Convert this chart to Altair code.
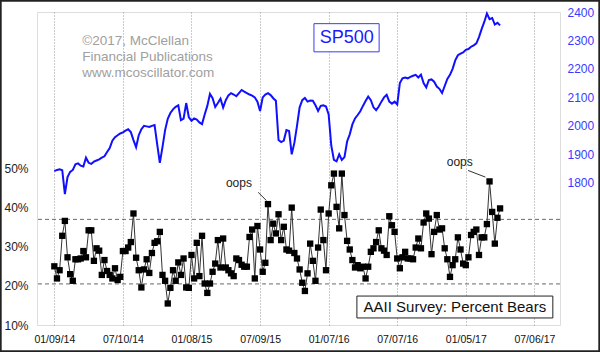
import altair as alt
import pandas as pd

# ---------------- data ----------------
start_date = "2014-01-09"

bears = [
    25.0, 21.9, 24.0, 32.8, 36.6, 27.3, 23.0, 21.3, 26.8, 26.8, 27.0, 28.9, 27.3,
    34.2, 34.2, 26.4, 29.6, 29.0, 22.8, 26.6, 23.8, 22.8, 21.9, 24.5, 21.5, 22.3,
    28.9, 28.9, 29.8, 31.2, 38.5, 27.2, 24.0, 19.6, 24.2, 26.8, 23.3, 28.4, 31.0,
    31.4, 33.8, 22.8, 21.3, 15.5, 19.5, 24.0, 21.3, 26.0, 22.8, 27.0, 19.6, 19.5,
    27.9, 21.9, 31.0, 22.5,
    32.8, 20.6, 18.2, 20.6, 23.6, 25.7, 31.7, 24.7, 32.1, 24.7, 24.0, 23.2, 22.5,
    27.0, 26.6, 25.4, 24.9, 24.9, 32.5, 34.4, 21.9, 35.3, 29.3, 23.6, 25.9, 40.9,
    31.7, 35.9,
    33.4, 38.3, 31.7, 35.1, 29.3, 29.0, 40.0, 28.4, 27.0, 24.2, 20.8, 18.7, 23.2,
    30.8, 26.4, 21.3, 29.8, 39.5, 31.7, 24.0, 38.5, 45.7, 48.7, 40.2, 34.7, 48.7,
    38.1, 31.5, 29.3,
    26.6, 24.7, 25.3, 24.5, 24.9, 21.9, 24.9, 28.7, 29.6, 31.2, 34.2, 29.6, 29.0,
    27.9, 37.8, 35.5, 33.8, 27.0, 24.5, 27.3, 28.7, 27.0, 27.0, 26.8, 29.8, 32.1,
    29.6, 36.2,
    38.5, 37.2, 28.1, 33.8, 38.1, 34.4, 34.7, 29.6, 26.8, 22.3, 25.3, 26.8, 32.4,
    29.3, 25.7, 25.3, 27.3, 33.0, 33.8, 34.4, 27.9, 32.4, 32.4, 35.8, 46.7, 38.9,
    30.8, 37.4, 39.8,
]

sp500 = [
    1841, 1845, 1847, 1844, 1760, 1820, 1838, 1845, 1865, 1868, 1860, 1857, 1888,
    1870, 1866, 1874, 1878, 1882, 1888, 1893, 1908, 1922, 1948, 1960, 1967, 1973,
    1977, 1983, 1988, 1978, 1950, 1925, 1967, 1988, 2000, 1998, 1996, 2000, 2003,
    1935, 1870, 1925, 1985, 2025, 2045, 2058, 2067, 2072, 2020, 2025, 2080, 2030,
    2018, 2026, 2022, 2012, 2006, 2040, 2070, 2112, 2097, 2066, 2080, 2095, 2064,
    2090, 2107, 2115, 2110, 2104, 2115, 2126, 2120, 2115, 2110, 2106, 2100, 2085,
    2052, 2100, 2110, 2115, 2108, 2097, 2088, 1950, 1943, 1948, 1985, 1982, 1900,
    1940, 2000, 2065, 2090, 2098, 2085, 2089, 2088, 2072, 2052, 2070, 2072, 2068,
    2040, 1930, 1880, 1875, 1900, 1880, 1890, 1945, 1970, 2005, 2026, 2038, 2051,
    2070, 2087, 2103, 2090, 2065, 2055, 2068, 2085, 2100, 2109, 2085, 2078, 2085,
    2075, 2150, 2167, 2170, 2167, 2172, 2176, 2179, 2170, 2180, 2150, 2135, 2161,
    2163, 2155, 2138, 2130, 2115, 2140, 2165, 2179, 2200, 2230, 2248, 2254, 2258,
    2267, 2270, 2278, 2283, 2290, 2312, 2340, 2365, 2395, 2375, 2379, 2356, 2362,
    2353,
]

tick_dates = [(2014, 1, 9), (2014, 7, 10), (2015, 1, 8), (2015, 7, 9),
              (2016, 1, 7), (2016, 7, 7), (2017, 1, 5), (2017, 7, 6)]
x_domain = [(2013, 11, 24), (2017, 9, 12)]
left_ticks = [10, 20, 30, 40, 50]
left_domain = [10, 90]
right_ticks = [1800, 1900, 2000, 2100, 2200, 2300, 2400]
right_domain = [1300, 2400]
bear_levels = [37.0, 20.5]

copyright_lines = ["©2017, McClellan", "Financial Publications", "www.mcoscillator.com"]
copyright_date = "2014-03-24"
copyright_v = [82.7, 78.6, 74.3]

oops_labels = ["oops", "oops"]
oops_dates = ["2015-05-14", "2016-12-20"]
oops_v = [46.2, 51.6]
oops_line_from = ["2015-07-04", "2017-01-11"]
oops_line_to = ["2015-07-26", "2017-02-26"]
oops_line_v1 = [43.9, 49.5]
oops_line_v2 = [41.8, 47.8]

aaii_title = "AAII Survey: Percent Bears"
aaii_box_dates = ["2016-03-22", "2017-08-24"]
aaii_box_v = [17.4, 11.8]
aaii_text_date = "2016-12-07"
aaii_text_v = 14.6

sp_title = "SP500"
sp_box_dates = ["2015-11-29", "2016-05-20"]
sp_box_v = [2359, 2260]
sp_text_date = "2016-02-24"
sp_text_v = 2309

# ---------------- tables ----------------
FONT = "Liberation Sans"
b_dates = pd.date_range(start_date, periods=len(bears), freq="7D").strftime("%Y-%m-%d")
s_dates = pd.date_range(start_date, periods=len(sp500), freq="7D").strftime("%Y-%m-%d")
df_b = pd.DataFrame({"date": b_dates, "v": bears})
df_s = pd.DataFrame({"date": s_dates, "sp": sp500})
df_lv = pd.DataFrame({"v": bear_levels})
df_copy = pd.DataFrame({"date": [copyright_date] * 3, "v": copyright_v, "t": copyright_lines})
df_oops = pd.DataFrame({"date": oops_dates, "v": oops_v, "t": oops_labels})
df_oline = pd.DataFrame({"date": oops_line_from, "date2": oops_line_to,
                         "v": oops_line_v1, "v2": oops_line_v2})
df_abox = pd.DataFrame({"date": [aaii_box_dates[0]], "date2": [aaii_box_dates[1]],
                        "v": [aaii_box_v[0]], "v2": [aaii_box_v[1]]})
df_atext = pd.DataFrame({"date": [aaii_text_date], "v": [aaii_text_v], "t": [aaii_title]})
df_sbox = pd.DataFrame({"date": [sp_box_dates[0]], "date2": [sp_box_dates[1]],
                        "sp": [sp_box_v[0]], "sp2": [sp_box_v[1]]})
df_stext = pd.DataFrame({"date": [sp_text_date], "sp": [sp_text_v], "t": [sp_title]})


def dt(t):
    return alt.DateTime(year=t[0], month=t[1], date=t[2], utc=True)


X = alt.X("date:T",
          scale=alt.Scale(type="utc", domain=[dt(d) for d in x_domain]),
          axis=alt.Axis(values=[dt(d) for d in tick_dates],
                        labelExpr="utcFormat(datum.value, '%m/%d/%y')",
                        grid=True, gridDash=[1, 2],
                        gridColor="#999999", gridWidth=1, ticks=False, domain=False,
                        labelFontSize=10.5, labelPadding=9, labelColor="#111",
                        labelOverlap=False, labelFlush=False, title=None))
YL = alt.Y("v:Q", scale=alt.Scale(domain=left_domain, nice=False, zero=False),
           axis=alt.Axis(values=left_ticks, orient="left", labelExpr="datum.value + '%'",
                         grid=False, ticks=False, domain=False, labelFontSize=12,
                         labelPadding=9, labelColor="#222", title=None))
YR = alt.Y("sp:Q", scale=alt.Scale(domain=right_domain, nice=False, zero=False),
           axis=alt.Axis(values=right_ticks, orient="right", format="d", grid=False,
                         ticks=False, domain=False, labelFontSize=12, labelPadding=7,
                         labelColor="#3a3aff", title=None))

frame = alt.Chart(df_lv).mark_rect(fill=None, stroke="#222", strokeWidth=1.5).encode(
    x=alt.value(-36.3), x2=alt.value(562.3), y=alt.value(-11.3), y2=alt.value(339.3))
rules = alt.Chart(df_lv).mark_rule(color="#6a6a6a", strokeDash=[4, 3], strokeWidth=1).encode(y=YL)
b_line = alt.Chart(df_b).mark_line(color="#333333", strokeWidth=1).encode(x=X, y=YL)
b_pts = alt.Chart(df_b).mark_point(shape="square", filled=True, size=40, color="black",
                                   opacity=1).encode(x=X, y=YL)
copy_txt = alt.Chart(df_copy).mark_text(align="left", baseline="middle", fontSize=13.5,
                                        color="#a0a0a0", font=FONT).encode(x=X, y=YL, text="t:N")
oops_txt = alt.Chart(df_oops).mark_text(align="center", baseline="middle", fontSize=12,
                                        color="#222", font=FONT).encode(x=X, y=YL, text="t:N")
oops_ln = alt.Chart(df_oline).mark_rule(color="#333", strokeWidth=1).encode(
    x=X, x2="date2:T", y=YL, y2="v2:Q")
a_box = alt.Chart(df_abox).mark_rect(fill="white", stroke="#222", strokeWidth=1).encode(
    x=X, x2="date2:T", y=YL, y2="v2:Q")
a_txt = alt.Chart(df_atext).mark_text(align="center", baseline="middle", fontSize=15,
                                      color="#111", font=FONT).encode(x=X, y=YL, text="t:N")

left = alt.layer(rules, b_line, b_pts, copy_txt, oops_ln, oops_txt, a_box, a_txt, frame)

s_line = alt.Chart(df_s).mark_line(color="#1010ff", strokeWidth=2).encode(x=X, y=YR)
s_box = alt.Chart(df_sbox).mark_rect(fill="white", stroke="#3a3aff", strokeWidth=1).encode(
    x=X, x2="date2:T", y=YR, y2="sp2:Q")
s_txt = alt.Chart(df_stext).mark_text(align="center", baseline="middle", fontSize=18,
                                      color="#1a1aff", font=FONT).encode(x=X, y=YR, text="t:N")
right = alt.layer(s_line, s_box, s_txt)

chart = alt.layer(left, right).resolve_scale(y="independent").properties(
    width=523, height=313,
    autosize=alt.AutoSizeParams(type="none"),
    padding={"left": 37, "top": 12, "right": 40, "bottom": 27},
    background="white",
).configure_view(stroke="#a8a8a8", strokeWidth=1).configure(font=FONT)

chart.save("out.html", embed_options={"renderer": "svg", "actions": False})
